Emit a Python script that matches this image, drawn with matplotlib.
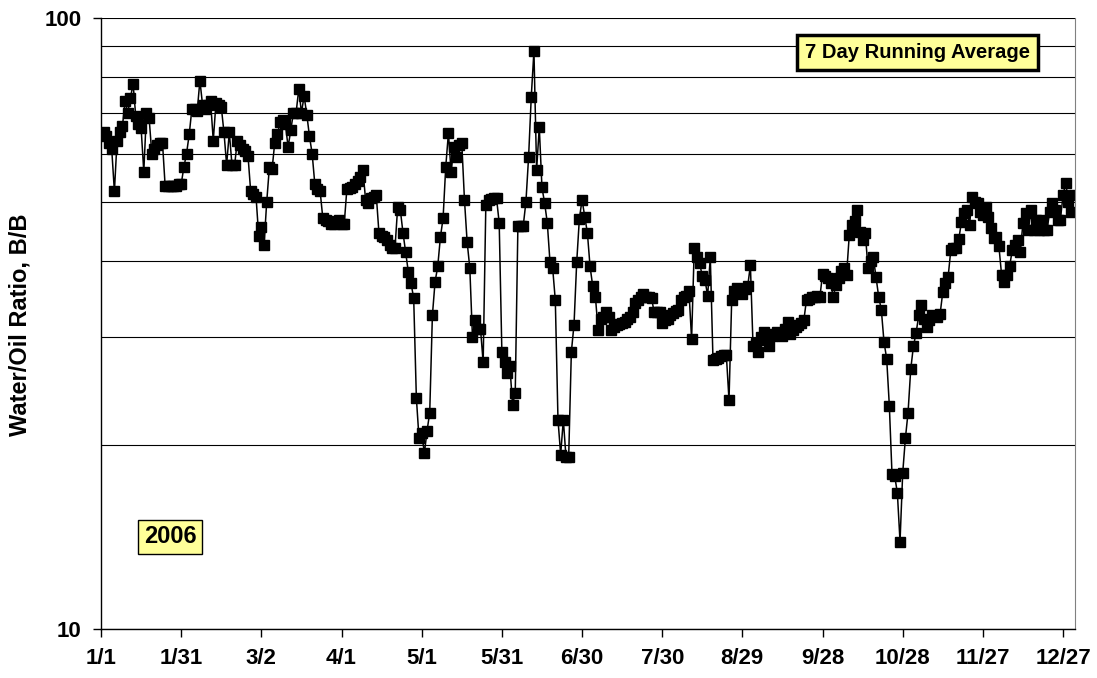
import matplotlib
matplotlib.use('Agg')
import matplotlib.pyplot as plt
from matplotlib.ticker import FixedLocator, NullFormatter
import numpy as np

plt.rcParams['font.family'] = ['Liberation Sans', 'DejaVu Sans']
plt.rcParams['font.weight'] = 'bold'

# 7 day running average of water/oil ratio, one value per day (1/2 .. 12/31)
wor_jan = [65, 64, 62.5, 61, 52, 63, 65, 66.5, 73, 70,
           74, 78, 69, 67, 66, 56, 70, 68.5, 60, 61,
           62, 62.5, 62.5, 53, 53, 53, 53, 53, 53.5, 53.5]
wor_feb = [57, 60, 64.5, 71, 71, 70.5, 79, 72, 71, 72,
           73, 63, 72.5, 72, 71.5, 65, 57.5, 65, 57.5, 57.5,
           63, 62, 61, 60.5, 59.5, 52, 51.5, 51, 44, 45.5]
wor_mar = [42.5, 50, 57, 56.5, 62.5, 64.5, 67.5, 68, 67, 61.5,
           65.5, 70, 70, 76.5, 70, 74.5, 69.5, 64, 60, 53.5,
           52.5, 52, 47, 46.7, 46.5, 46, 46, 46.3, 46.7, 46,
           46]
wor_apr_may = [52.5, 52.6, 52.8, 53.5, 54, 55, 56.4, 50.4, 49.8, 50.7,
               51, 51.3, 44.5, 44, 43.8, 43.3, 42.5, 42, 42, 49,
               48.5, 44.5, 41.4, 38.4, 36.8, 34.8, 23.9, 20.5, 20.9, 19.4,
               21.1, 22.6, 32.6, 37, 39.2, 43.8, 47, 57.1, 64.8, 56,
               61.5, 59.2, 62, 62.4, 50.4]
wor_may_jul = [43, 39, 30, 32, 31, 31, 27.3, 49.5, 50.4, 50.5,
               50.7, 50.7, 46.2, 28.4, 27.3, 26.2, 26.9, 23.3, 24.3, 45.7,
               45.7, 45.7, 50, 59.2, 74.3, 88.3, 56.4, 66.3, 52.8, 49.8,
               46.2, 39.9, 39, 34.5, 22, 19.3, 22, 19.1, 19.1, 28.4,
               31.5, 39.8, 46.9, 50.4, 47.3, 44.5, 39.2, 36.4, 35, 30.9]
wor_jul_aug = [32.2, 32.4, 33, 32.4, 30.9, 31.2, 31.5, 31.6, 31.7, 31.8,
               32.2, 32.4, 33, 34.1, 34.5, 35, 35.4, 35, 34.9, 34.8,
               33, 33, 33, 31.7, 32, 32.2, 32.6, 32.9, 33.1, 33.3,
               34.6, 35, 35.1, 35.8, 29.8, 42.1, 40.7, 39.7, 37.8, 37.3,
               35.1, 40.6, 27.6, 27.7, 27.8]
wor_aug_oct = [28, 28.1, 28.1, 23.7, 34.5, 35.8, 36.1, 35.8, 35.4, 36,
               36.4, 39.4, 29, 29.4, 28.4, 30, 30.6, 29.7, 29, 30.2,
               30.4, 30.6, 30.4, 30.2, 31, 31.8, 30.4, 30.8, 31.2, 31.5,
               31.7, 32, 34.6, 34.7, 34.9, 35, 35.1, 34.9, 38.1, 37.8,
               37.5, 36.8, 35, 36.5, 37.5, 38.5, 39, 38]
wor_oct_nov = [44.1, 45.8, 46.5, 48.5, 44.6, 43.3, 44.5, 39, 40, 40.6,
               37.7, 35, 33.3, 29.5, 27.7, 23.2, 17.9, 17.8, 16.7, 13.9,
               18, 20.5, 22.6, 26.6, 29, 30.5, 32.6, 33.9, 32.2, 31.2,
               32, 32.6, 32.5, 32.4, 32.8, 35.6, 36.8, 37.7, 41.7, 42,
               42.1, 43.5]
wor_nov_dec = [46.4, 48, 48.5, 45.8, 50.9, 50, 49.8, 48.2, 47.6, 49.1,
               47.2, 45.3, 43.6, 43.8, 42.3, 38, 37, 38, 39.2, 41.7,
               42.5, 43.3, 41.4, 46.2, 48, 44.9, 48.5, 44.9, 46.7, 44.9,
               46.7, 45, 44.9, 48.2, 49.8, 48.5, 46.7, 46.7, 51.3, 53.7,
               50, 48.2, 51.3]

wor = (wor_jan + wor_feb + wor_mar + wor_apr_may + wor_may_jul
       + wor_jul_aug + wor_aug_oct + wor_oct_nov + wor_nov_dec)
days = np.arange(1, len(wor) + 1)

tick_days = list(range(0, 361, 30))
tick_labels = ['1/1', '1/31', '3/2', '4/1', '5/1', '5/31', '6/30',
               '7/30', '8/29', '9/28', '10/28', '11/27', '12/27']

fig = plt.figure(figsize=(10.97, 6.78), dpi=100)
ax = fig.add_axes([0.0921, 0.0723, 0.8879, 0.9012])

ax.plot(days, wor, color='black', lw=1.1, marker='s', ms=6.5,
        mfc='black', mec='black')

ax.set_yscale('log')
ax.set_ylim(10, 100)
ax.set_xlim(0, 364.5)
ax.set_yticks([10, 100])
ax.set_yticklabels(['10', '100'])
ax.yaxis.set_minor_locator(FixedLocator(range(20, 100, 10)))
ax.yaxis.set_minor_formatter(NullFormatter())
ax.grid(True, which='both', axis='y', color='black', lw=0.8)
ax.tick_params(axis='y', which='minor', length=0)
ax.tick_params(which='major', direction='out', length=6, width=1,
               labelsize=16, pad=8)
ax.set_xticks(tick_days)
ax.set_xticklabels(tick_labels)

for s in ['left', 'bottom']:
    ax.spines[s].set_color('black')
    ax.spines[s].set_linewidth(1)
ax.spines['right'].set_color('#808080')
ax.spines['top'].set_visible(False)

fig.text(0.018, 1 - 325 / 678, 'Water/Oil Ratio, B/B', rotation=90,
         ha='center', va='center', fontsize=17, fontweight='bold')

ax.text(0.838, 0.944, '7 Day Running Average', transform=ax.transAxes,
        ha='center', va='center', fontsize=14.5, fontweight='bold',
        bbox=dict(boxstyle='square,pad=0.4', fc='#FFFF99', ec='black', lw=2.5))
ax.text(0.0708, 0.1506, '2006', transform=ax.transAxes,
        ha='center', va='center', fontsize=17, fontweight='bold',
        bbox=dict(boxstyle='square,pad=0.25', fc='#FFFF99', ec='black', lw=1))

fig.savefig('out.png', dpi=100)
